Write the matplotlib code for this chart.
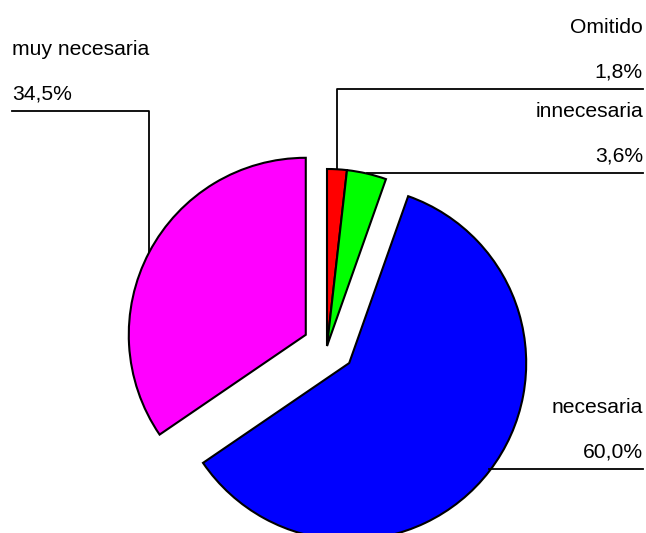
import numpy as np
import matplotlib
matplotlib.use("Agg")
import matplotlib.pyplot as plt

labels = ["Omitido", "innecesaria", "necesaria", "muy necesaria"]
values = [1.8, 3.6, 60.0, 34.5]
colors = ["#FF0000", "#00FF00", "#0000FF", "#FF00FF"]

W, H = 646, 533
plt.rcParams['font.family'] = ['Liberation Sans', 'DejaVu Sans']

fig = plt.figure(figsize=(W / 100, H / 100), dpi=100)
ax = fig.add_axes([0, 0, 1, 1])

# pixel-like coordinates, y measured upward; explode is in the same units
cx, cy, r = 327, H - 346, 177
explode = [0, 0, 28, 24]
wedges, _ = ax.pie(values, colors=colors, explode=explode, startangle=90,
                   counterclock=False, radius=r, center=(cx, cy),
                   wedgeprops=dict(edgecolor="black", linewidth=1.5))
ax.set_xlim(0, W)
ax.set_ylim(0, H)
ax.set_aspect("equal")
ax.axis("off")

def fmt(v):
    return f"{v:.1f}".replace(".", ",") + "%"

# where each label's horizontal rule sits (image y, from top) and which side
rule_y = [89, 173, 469, 111]
side = ["right", "right", "right", "left"]
x_left, x_right = 12, 643
lw = 1.3

for w, lab, v, ry, sd in zip(wedges, labels, values, rule_y, side):
    mid = np.deg2rad((w.theta1 + w.theta2) / 2)
    px = w.center[0] + w.r * np.cos(mid)
    py = w.center[1] + w.r * np.sin(mid)
    yy = H - ry
    if sd == "right":
        if abs(py - yy) > 3:
            ax.plot([px, px, x_right], [py, yy, yy], color="black", lw=lw)
        else:
            ax.plot([px, x_right], [yy, yy], color="black", lw=lw)
        tx, ha = x_right, "right"
    else:
        ax.plot([px, px, x_left], [py, yy, yy], color="black", lw=lw)
        tx, ha = x_left, "left"
    ax.text(tx, yy + 12, fmt(v), ha=ha, va="baseline", fontsize=15.2)
    ax.text(tx, yy + 56, lab, ha=ha, va="baseline", fontsize=15.2)

fig.savefig("out.png", dpi=100)
